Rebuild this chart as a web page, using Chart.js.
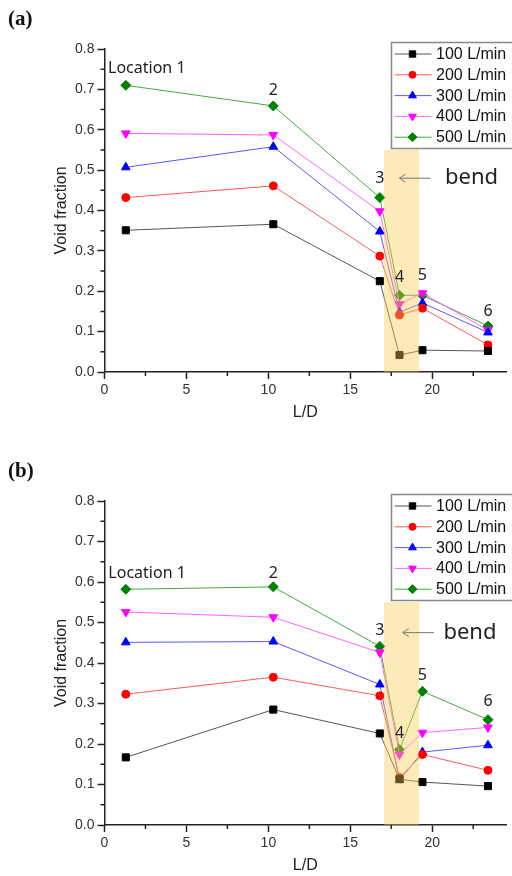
<!DOCTYPE html>
<html>
<head>
<meta charset="utf-8">
<script src="https://cdn.jsdelivr.net/npm/chart.js@4.4.0/dist/chart.umd.min.js"></script>
<style>
  body { margin: 0; width: 512px; height: 876px; background: #fff; overflow: hidden; position: relative; }
  .panel { position: absolute; left: 0; width: 512px; height: 438px; }
  .tag { position: absolute; left: 8px; font: bold 21px "Liberation Serif", serif; color: #111; }
</style>
</head>
<body>
<div class="panel" style="top:0"><canvas id="chartA" width="512" height="438"></canvas></div>
<div class="panel" style="top:438px"><canvas id="chartB" width="512" height="438"></canvas></div>
<div class="tag" style="top:6px">(a)</div>
<div class="tag" style="top:458px">(b)</div>

<script>
// Measurement locations along the pipe (L/D)
const locationLD = [1.3, 10.3, 16.8, 18.0, 19.4, 23.4];
const flowLabels = ['100 L/min', '200 L/min', '300 L/min', '400 L/min', '500 L/min'];

// panel (a)
const voidA100 = [0.351, 0.366, 0.225, 0.042, 0.054, 0.052];
const voidA200 = [0.432, 0.461, 0.287, 0.141, 0.158, 0.067];
const voidA300 = [0.507, 0.558, 0.348, 0.148, 0.171, 0.098];
const voidA400 = [0.591, 0.587, 0.398, 0.168, 0.195, 0.104];
const voidA500 = [0.710, 0.659, 0.432, 0.190, 0.190, 0.114];

// panel (b)
const voidB100 = [0.167, 0.285, 0.226, 0.113, 0.106, 0.096];
const voidB200 = [0.323, 0.365, 0.319, 0.117, 0.174, 0.135];
const voidB300 = [0.451, 0.453, 0.347, 0.111, 0.180, 0.197];
const voidB400 = [0.526, 0.513, 0.426, 0.174, 0.228, 0.241];
const voidB500 = [0.582, 0.588, 0.441, 0.186, 0.330, 0.260];

// bend region (L/D range, void fraction height)
const bendStart = 17.05, bendEnd = 19.2, bendTop = 0.55;

// series styles
const lineColors = ['#555555', '#ff5a5a', '#5a5aff', '#ff66ff', '#44aa44'];
const markColors = ['#000000', '#ff0000', '#0000ff', '#ff00ff', '#008000'];
const markStyles = ['rect', 'circle', 'triangle', 'triangle', 'rectRot'];
const markRot = [0, 0, 0, 180, 0];
const markRadius = [5, 4, 5, 5, 5];

// location labels (placed in data units)
const labelsA = [
    { t: 'Location 1', x: 2.58, y: 0.752 },
    { t: '2', x: 10.3, y: 0.698 },
    { t: '3', x: 16.8, y: 0.48 },
    { t: '4', x: 18.0, y: 0.233 },
    { t: '5', x: 19.4, y: 0.238 },
    { t: '6', x: 23.4, y: 0.149 }
];
const labelsB = [
    { t: 'Location 1', x: 2.6, y: 0.62 },
    { t: '2', x: 10.3, y: 0.621 },
    { t: '3', x: 16.8, y: 0.48 },
    { t: '4', x: 18.0, y: 0.225 },
    { t: '5', x: 19.4, y: 0.369 },
    { t: '6', x: 23.4, y: 0.305 }
];

const axisColor = '#222';

// minor ticks every 2.5 on x and 0.05 on y
const minorTicks = {
    id: 'minorTicks',
    afterDraw(chart) {
        const ctx = chart.ctx, xs = chart.scales.x, ys = chart.scales.y;
        const a = chart.chartArea;
        ctx.save();
        ctx.strokeStyle = axisColor;
        ctx.lineWidth = 1.5;
        ctx.beginPath();
        for (let v = 2.5; v < xs.max; v += 5) {
            const px = xs.getPixelForValue(v);
            ctx.moveTo(px, a.bottom);
            ctx.lineTo(px, a.bottom + 4);
        }
        for (let v = 0.05; v < ys.max; v += 0.1) {
            const py = ys.getPixelForValue(v);
            ctx.moveTo(a.left, py);
            ctx.lineTo(a.left - 4, py);
        }
        ctx.stroke();
        ctx.restore();
    }
};

// translucent band marking the bend, drawn over the lines
const bendBand = {
    id: 'bendBand',
    afterDatasetsDraw(chart) {
        const ctx = chart.ctx, xs = chart.scales.x, ys = chart.scales.y;
        const x0 = xs.getPixelForValue(bendStart), x1 = xs.getPixelForValue(bendEnd);
        const y0 = ys.getPixelForValue(0), y1 = ys.getPixelForValue(bendTop);
        ctx.save();
        ctx.fillStyle = 'rgba(248, 203, 78, 0.4)';
        ctx.fillRect(x0, y1, x1 - x0, y0 - y1);
        ctx.restore();
    }
};

// location numbers, "bend" text and arrow
const notes = {
    id: 'notes',
    afterDraw(chart, args, opts) {
        const ctx = chart.ctx, xs = chart.scales.x, ys = chart.scales.y;
        ctx.save();
        ctx.fillStyle = '#222';
        ctx.textAlign = 'center';
        ctx.textBaseline = 'middle';
        ctx.font = '16px "Noto Sans", sans-serif';
        opts.labels.forEach(l => {
            ctx.fillText(l.t, xs.getPixelForValue(l.x), ys.getPixelForValue(l.y));
        });
        const by = ys.getPixelForValue(opts.bendY);
        ctx.font = '22px "Noto Sans", sans-serif';
        ctx.fillText('bend', xs.getPixelForValue(opts.bendX), by);
        const ax0 = xs.getPixelForValue(opts.arrowFrom), ax1 = xs.getPixelForValue(opts.arrowTo);
        ctx.strokeStyle = '#777';
        ctx.lineWidth = 1;
        ctx.beginPath();
        ctx.moveTo(ax0, by);
        ctx.lineTo(ax1, by);
        ctx.moveTo(ax1 + 6, by - 4);
        ctx.lineTo(ax1, by);
        ctx.lineTo(ax1 + 6, by + 4);
        ctx.stroke();
        ctx.restore();
    }
};

// boxed legend with line + marker samples
const boxLegend = {
    id: 'boxLegend',
    afterDraw(chart) {
        const ctx = chart.ctx, a = chart.chartArea;
        const left = a.right - 114.5, top = a.top - 6.5;
        const rowH = 20.8;
        const n = chart.data.datasets.length;
        ctx.save();
        ctx.fillStyle = '#fff';
        ctx.fillRect(left, top, chart.width - left + 2, rowH * n + 2);
        ctx.strokeStyle = '#888';
        ctx.lineWidth = 1.5;
        ctx.strokeRect(left, top, chart.width - left + 4, rowH * n + 2);
        chart.data.datasets.forEach((ds, i) => {
            const cy = top + 11.5 + i * rowH;
            ctx.strokeStyle = ds.borderColor;
            ctx.lineWidth = 1;
            ctx.beginPath();
            ctx.moveTo(left + 3, cy);
            ctx.lineTo(left + 40, cy);
            ctx.stroke();
            ctx.fillStyle = ds.pointBackgroundColor;
            ctx.strokeStyle = ds.pointBorderColor;
            Chart.helpers.drawPoint(ctx, {
                pointStyle: ds.pointStyle, radius: ds.pointRadius - 0.5,
                rotation: ds.pointRotation, borderWidth: 1
            }, left + 21, cy);
            ctx.fillStyle = '#111';
            ctx.font = '16px "Liberation Sans", Arial, sans-serif';
            ctx.textAlign = 'left';
            ctx.textBaseline = 'middle';
            ctx.fillText(ds.label, left + 44.5, cy + 0.5);
        });
        ctx.restore();
    }
};

function makeDatasets(series) {
    return series.map((vals, i) => ({
        label: flowLabels[i],
        data: locationLD.map((ld, j) => ({ x: ld, y: vals[j] })),
        borderColor: lineColors[i],
        borderWidth: 1,
        pointStyle: markStyles[i],
        pointRotation: markRot[i],
        pointRadius: markRadius[i],
        pointBackgroundColor: markColors[i],
        pointBorderColor: markColors[i],
        pointBorderWidth: 1,
        tension: 0,
        clip: false
    }));
}

function makeChart(id, series, labels, plotTop, plotBottom, extra) {
    const H = 438;
    return new Chart(document.getElementById(id), {
        type: 'line',
        data: { datasets: makeDatasets(series) },
        options: {
            responsive: false,
            animation: false,
            events: [],
            layout: { padding: { left: 0, right: 5, top: plotTop, bottom: 0 } },
            plugins: {
                legend: { display: false },
                tooltip: { enabled: false },
                notes: Object.assign({ labels: labels }, extra)
            },
            scales: {
                x: {
                    type: 'linear',
                    min: 0,
                    max: 24.5,
                    border: { color: axisColor, width: 1.5 },
                    grid: { drawOnChartArea: false, tickLength: 7, tickColor: axisColor, tickWidth: 1.5 },
                    ticks: {
                        stepSize: 5, includeBounds: false, maxRotation: 0, padding: 3,
                        color: '#333', font: { family: '"Liberation Sans", Arial, sans-serif', size: 14 }
                    },
                    title: {
                        display: true, text: 'L/D', color: '#222',
                        font: { family: '"Liberation Sans", Arial, sans-serif', size: 16 },
                        padding: { top: 0, bottom: (H - plotBottom) - 41 - 9.6 }
                    },
                    afterFit(scale) { scale.height = H - plotBottom; }
                },
                y: {
                    min: 0,
                    max: 0.8,
                    border: { color: axisColor, width: 1.5 },
                    grid: { drawOnChartArea: false, tickLength: 7, tickColor: axisColor, tickWidth: 1.5 },
                    ticks: {
                        stepSize: 0.1, padding: 3, color: '#333',
                        font: { family: '"Liberation Sans", Arial, sans-serif', size: 14 },
                        callback: v => v.toFixed(1)
                    },
                    title: {
                        display: true, text: 'Void fraction', color: '#222',
                        font: { family: '"Liberation Sans", Arial, sans-serif', size: 16 },
                        padding: { top: 52, bottom: 0 }
                    },
                    afterFit(scale) { scale.width = 104.5; }
                }
            }
        },
        plugins: [minorTicks, bendBand, notes, boxLegend]
    });
}

makeChart('chartA', [voidA100, voidA200, voidA300, voidA400, voidA500], labelsA, 49, 372,
    { bendX: 22.4, bendY: 0.48, arrowFrom: 19.9, arrowTo: 18.0 });
makeChart('chartB', [voidB100, voidB200, voidB300, voidB400, voidB500], labelsB, 63, 387,
    { bendX: 22.3, bendY: 0.475, arrowFrom: 20.1, arrowTo: 18.2 });
</script>
</body>
</html>
